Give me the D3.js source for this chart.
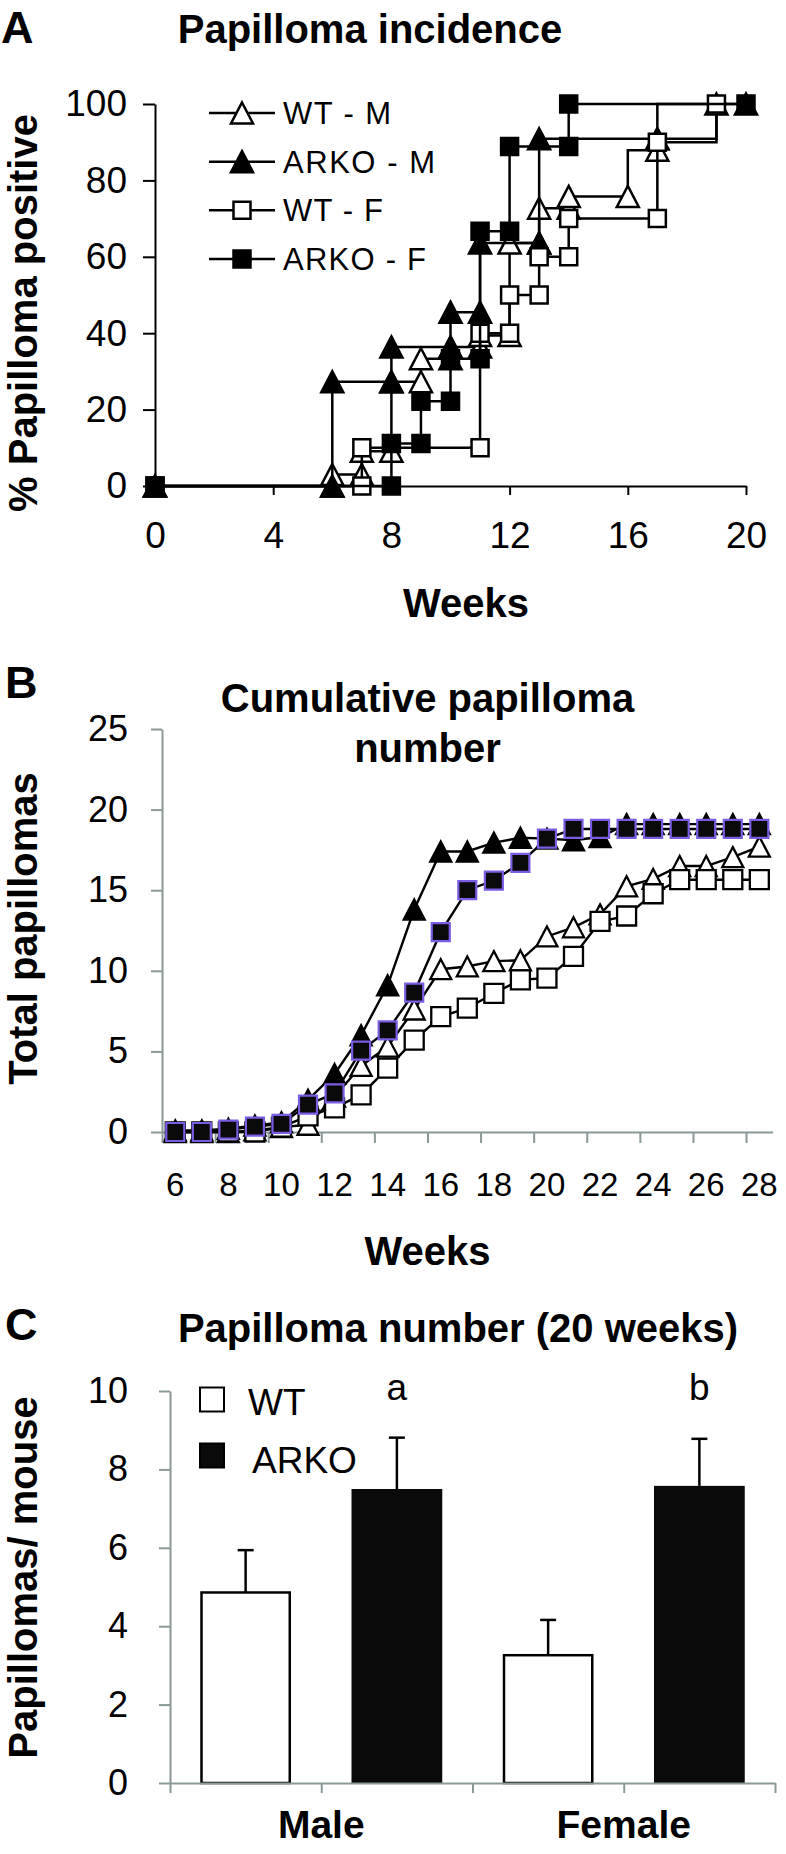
<!DOCTYPE html>
<html>
<head>
<meta charset="utf-8">
<script src="https://cdn.jsdelivr.net/npm/d3@7/dist/d3.min.js"></script>
<style>
html,body{margin:0;padding:0;background:#fff;}
svg{display:block;}
svg text{font-family:"Liberation Sans",Arial,Helvetica,sans-serif;fill:#000;}
</style>
</head>
<body>
<svg id="fig" width="786" height="1854"></svg>
<script>
// ================= DATA =================
// Panel A: Papilloma incidence (% papilloma positive vs weeks)
const weekTicksA = [0, 4, 8, 12, 16, 20];
const pctTicksA = [0, 20, 40, 60, 80, 100];
const legendA = ["WT - M", "ARKO - M", "WT - F", "ARKO - F"];

const wtM_x = [0, 6, 6, 7, 7, 8, 8, 9, 9, 10, 10, 11, 11, 12, 12, 13, 13, 14, 14, 16, 16, 17, 17, 19, 19];
const wtM_y = [0, 0, 3, 3, 9.1, 9.1, 27.3, 27.3, 33.3, 33.3, 36.4, 36.4, 39.4, 39.4, 63.6, 63.6, 72.7, 72.7, 75.8, 75.8, 87.9, 87.9, 90.9, 90.9, 100];
const wtM_noMarker = [20, 23];

const arkoM_x = [0, 6, 6, 8, 8, 10, 10, 11, 11, 13, 13, 17, 17, 20];
const arkoM_y = [0, 0, 27.3, 27.3, 36.4, 36.4, 45.5, 45.5, 63.6, 63.6, 90.9, 90.9, 100, 100];
const arkoM_noMarker = [12];

const wtF_x = [0, 7, 7, 11, 11, 12, 12, 13, 13, 14, 14, 17, 17, 19, 19];
const wtF_y = [0, 0, 10, 10, 40, 40, 50, 50, 60, 60, 70, 70, 90, 90, 100];
const wtF_noMarker = [13];

const arkoF_x = [0, 8, 8, 9, 9, 10, 10, 11, 11, 12, 12, 14, 14, 20];
const arkoF_y = [0, 0, 11.1, 11.1, 22.2, 22.2, 33.3, 33.3, 66.7, 66.7, 88.9, 88.9, 100, 100];
const arkoF_noMarker = [];

// Panel B: Cumulative papilloma number
const weeksB = [6, 7, 8, 9, 10, 11, 12, 13, 14, 15, 16, 17, 18, 19, 20, 21, 22, 23, 24, 25, 26, 27, 28];
const weekLabelsB = [6, 8, 10, 12, 14, 16, 18, 20, 22, 24, 26, 28];
const totalTicksB = [0, 5, 10, 15, 20, 25];
const wtM_B   = [0, 0, 0, 0.1, 0.3, 0.45, 2.2, 4.1, 5.3, 7.6, 10.1, 10.27, 10.6, 10.65, 12.13, 12.7, 13.5, 15.24, 15.7, 16.5, 16.5, 17.05, 17.7];
const arkoM_B = [0.1, 0.1, 0.2, 0.4, 0.6, 2.0, 3.6, 6.0, 9.1, 13.8, 17.4, 17.4, 17.95, 18.25, 18.2, 18.1, 18.3, 19.1, 19.1, 19.1, 19.1, 19.1, 19.1];
const wtF_B   = [0, 0, 0, 0, 0.3, 1.0, 1.5, 2.3, 3.96, 5.7, 7.16, 7.68, 8.6, 9.44, 9.55, 10.9, 13.06, 13.4, 14.78, 15.65, 15.65, 15.65, 15.65];
const arkoF_B = [0, 0, 0.15, 0.33, 0.5, 1.7, 2.4, 5.05, 6.3, 8.65, 12.4, 15.0, 15.6, 16.7, 18.2, 18.8, 18.8, 18.8, 18.8, 18.8, 18.8, 18.8, 18.8];

// Panel C: Papilloma number (20 weeks)
const sexesC = ["Male", "Female"];
const groupsC = ["WT", "ARKO"];
const wtMean = [4.86, 3.26];
const wtSem = [1.08, 0.9];
const arkoMean = [7.5, 7.58];
const arkoSem = [1.31, 1.2];
const sigLetters = ["a", "b"];
const perMouseTicks = [0, 2, 4, 6, 8, 10];

// ================= DRAWING =================
const svg = d3.select("#fig");
svg.append("rect").attr("width", 786).attr("height", 1854).attr("fill", "#fff");
const BLACK = "#000";
const GRAY = "#8a9898";
const PURPLE = "#7b5de4";

function triPath(w, h) { return `M0,${-h / 2}L${w / 2},${h / 2}L${-w / 2},${h / 2}Z`; }
function sqPath(s) { return `M${-s / 2},${-s / 2}H${s / 2}V${s / 2}H${-s / 2}Z`; }

function styleAxis(g, color, fs, weight) {
  g.attr("font-family", null).attr("font-size", null);
  g.select(".domain").attr("stroke", color).attr("stroke-width", 2);
  g.selectAll(".tick line").attr("stroke", color).attr("stroke-width", 2);
  g.selectAll(".tick text").attr("font-size", fs).attr("fill", BLACK).attr("font-weight", weight || "normal");
}

function label(x, y, txt, fs, weight, anchor, rot) {
  const t = svg.append("text").attr("font-size", fs).attr("font-weight", weight || "normal")
    .attr("text-anchor", anchor || "middle").text(txt);
  if (rot) t.attr("transform", `translate(${x},${y}) rotate(${rot})`);
  else t.attr("x", x).attr("y", y);
  return t;
}

// ---------- Panel A ----------
const xA = d3.scaleLinear().domain([0, 20]).range([155, 746]);
const yA = d3.scaleLinear().domain([0, 100]).range([486, 104]);

label(1, 43, "A", 45, "bold", "start");
label(370, 43, "Papilloma incidence", 40, "bold");

const gyA = svg.append("g").attr("transform", "translate(155,0)")
  .call(d3.axisLeft(yA).tickValues(pctTicksA).tickSize(12).tickSizeOuter(0).tickPadding(16));
styleAxis(gyA, BLACK, 37);
const gxA = svg.append("g").attr("transform", "translate(0,486)")
  .call(d3.axisBottom(xA).tickValues(weekTicksA).tickSize(9).tickSizeOuter(0).tickPadding(27));
styleAxis(gxA, BLACK, 37);

label(466, 617, "Weeks", 40, "bold");
label(37, 313, "% Papilloma positive", 40, "bold", "middle", -90);

const seriesA = [
  { xs: wtM_x, ys: wtM_y, skip: wtM_noMarker, shape: "tri", fill: "#fff" },
  { xs: arkoM_x, ys: arkoM_y, skip: arkoM_noMarker, shape: "tri", fill: BLACK },
  { xs: wtF_x, ys: wtF_y, skip: wtF_noMarker, shape: "sq", fill: "#fff" },
  { xs: arkoF_x, ys: arkoF_y, skip: arkoF_noMarker, shape: "sq", fill: BLACK }
];
const markerA = s => s === "tri" ? triPath(22, 21) : sqPath(17);

const lineA = d3.line().x(d => xA(d[0])).y(d => yA(d[1]));
seriesA.forEach(s => {
  const pts = s.xs.map((x, i) => [x, s.ys[i], i]);
  svg.append("path").datum(pts).attr("d", lineA).attr("fill", "none")
    .attr("stroke", BLACK).attr("stroke-width", 2.5).attr("stroke-linejoin", "miter");
  svg.append("g").selectAll("path").data(pts.filter(p => !s.skip.includes(p[2]))).join("path")
    .attr("d", markerA(s.shape))
    .attr("transform", d => `translate(${xA(d[0])},${yA(d[1])})`)
    .attr("fill", s.fill).attr("stroke", BLACK).attr("stroke-width", 2.5).attr("stroke-linejoin", "miter");
});

// legend A
const legRowsA = d3.scaleLinear().domain([0, 3]).range([113, 259]);
const legWidthsA = [108, 152, 100, 143];
legendA.forEach((name, i) => {
  const y = legRowsA(i);
  svg.append("line").attr("x1", 209).attr("x2", 275).attr("y1", y).attr("y2", y)
    .attr("stroke", BLACK).attr("stroke-width", 2.5);
  svg.append("path").attr("d", markerA(seriesA[i].shape)).attr("transform", `translate(242,${y})`)
    .attr("fill", seriesA[i].fill).attr("stroke", BLACK).attr("stroke-width", 2.5);
  svg.append("text").attr("x", 283).attr("y", y + 11).attr("font-size", 31)
    .attr("textLength", legWidthsA[i]).attr("lengthAdjust", "spacing").text(name);
});

// ---------- Panel B ----------
const xB = d3.scaleBand().domain(weeksB).range([162, 772.6]).padding(0);
const xBidx = d3.scaleLinear().domain([0, weeksB.length]).range([162, 772.6]);
const yB = d3.scaleLinear().domain([0, 25]).range([1132, 729]);

label(5, 698, "B", 45, "bold", "start");
label(427.5, 711.7, "Cumulative papilloma", 40, "bold");
label(427.5, 761.7, "number", 40, "bold");

const gyB = svg.append("g").attr("transform", "translate(162,0)")
  .call(d3.axisLeft(yB).tickValues(totalTicksB).tickSize(11).tickSizeOuter(0).tickPadding(23));
styleAxis(gyB, GRAY, 36);
const gxB = svg.append("g").attr("transform", "translate(0,1132)")
  .call(d3.axisBottom(xBidx).tickValues(d3.range(0, weeksB.length, 2)).tickSize(11).tickSizeOuter(0).tickFormat(""));
styleAxis(gxB, GRAY, 33);
const gxBl = svg.append("g").attr("transform", "translate(0,1132)")
  .call(d3.axisBottom(xB).tickValues(weekLabelsB).tickSize(0).tickPadding(41));
gxBl.select(".domain").remove();
styleAxis(gxBl, GRAY, 33);

label(427.5, 1265, "Weeks", 40, "bold");
label(37, 928.5, "Total papillomas", 40, "bold", "middle", -90);

const seriesB = [
  { vals: wtM_B, shape: "tri", fill: "#fff", stroke: BLACK, sw: 2.3 },
  { vals: arkoM_B, shape: "tri", fill: BLACK, stroke: BLACK, sw: 2.3 },
  { vals: wtF_B, shape: "sq", fill: "#fff", stroke: BLACK, sw: 2.3 },
  { vals: arkoF_B, shape: "sqp", fill: "#0a0a0a", stroke: PURPLE, sw: 2.2 }
];
const markerB = s => s === "tri" ? triPath(21, 20) : (s === "sq" ? sqPath(19) : sqPath(18));
const cx = w => xB(w) + xB.bandwidth() / 2;
const lineB = d3.line().x(d => cx(d[0])).y(d => yB(d[1]));
seriesB.forEach(s => {
  const pts = weeksB.map((w, i) => [w, s.vals[i]]);
  svg.append("path").datum(pts).attr("d", lineB).attr("fill", "none")
    .attr("stroke", BLACK).attr("stroke-width", 2.4);
  svg.append("g").selectAll("path").data(pts).join("path")
    .attr("d", markerB(s.shape))
    .attr("transform", d => `translate(${cx(d[0])},${yB(d[1])})`)
    .attr("fill", s.fill).attr("stroke", s.stroke).attr("stroke-width", s.sw);
});

// ---------- Panel C ----------
const xC = d3.scaleBand().domain(sexesC).range([170, 775]).padding(0);
const xG = d3.scaleBand().domain(groupsC).range([0, xC.bandwidth()]).paddingInner(0.4).paddingOuter(0.2);
const xCidx = d3.scaleLinear().domain([0, 4]).range([170, 775]);
const yC = d3.scaleLinear().domain([0, 10]).range([1783, 1391]);

label(5, 1340, "C", 45, "bold", "start");
label(458, 1342, "Papilloma number (20 weeks)", 40, "bold");

const gyC = svg.append("g").attr("transform", "translate(170,0)")
  .call(d3.axisLeft(yC).tickValues(perMouseTicks).tickSize(11).tickSizeOuter(0).tickPadding(31));
styleAxis(gyC, GRAY, 36);

label(37, 1577.5, "Papillomas/ mouse", 40, "bold", "middle", -90);

const barsC = [];
sexesC.forEach((sx, i) => {
  barsC.push({ sex: sx, grp: "WT", v: wtMean[i], e: wtSem[i], letter: null });
  barsC.push({ sex: sx, grp: "ARKO", v: arkoMean[i], e: arkoSem[i], letter: sigLetters[i] });
});
const bx = d => xC(d.sex) + xG(d.grp);
// error bars (drawn first; bars cover lower part)
const eg = svg.append("g");
barsC.forEach(d => {
  const c = bx(d) + xG.bandwidth() / 2;
  eg.append("line").attr("x1", c).attr("x2", c).attr("y1", yC(d.v)).attr("y2", yC(d.v + d.e))
    .attr("stroke", BLACK).attr("stroke-width", 2.5);
  eg.append("line").attr("x1", c - 8).attr("x2", c + 8).attr("y1", yC(d.v + d.e)).attr("y2", yC(d.v + d.e))
    .attr("stroke", BLACK).attr("stroke-width", 2.5);
});
svg.append("g").selectAll("rect").data(barsC).join("rect")
  .attr("x", d => bx(d) + (d.grp === "WT" ? 1.25 : 0))
  .attr("width", d => xG.bandwidth() - (d.grp === "WT" ? 2.5 : 0))
  .attr("y", d => yC(d.v))
  .attr("height", d => yC(0) - yC(d.v))
  .attr("fill", d => d.grp === "WT" ? "#fff" : "#0a0a0a")
  .attr("stroke", d => d.grp === "WT" ? BLACK : "none")
  .attr("stroke-width", 2.5);

barsC.filter(d => d.letter).forEach(d => {
  label(bx(d) + xG.bandwidth() / 2, 1400, d.letter, 37, "normal");
});

const gxC = svg.append("g").attr("transform", "translate(0,1783)")
  .call(d3.axisBottom(xCidx).tickValues([0, 1, 2, 3, 4]).tickSize(10).tickSizeOuter(0).tickFormat(""));
styleAxis(gxC, GRAY, 36);
const gxCl = svg.append("g").attr("transform", "translate(0,1783)")
  .call(d3.axisBottom(xC).tickSize(0).tickPadding(27));
gxCl.select(".domain").remove();
styleAxis(gxCl, GRAY, 39, "bold");

// legend C
const legC = [{ name: groupsC[0], fill: "#fff", y: 1399.5, tx: 248, ty: 1415 },
              { name: groupsC[1], fill: "#0a0a0a", y: 1455.5, tx: 252, ty: 1473 }];
legC.forEach(l => {
  svg.append("rect").attr("x", 200).attr("y", l.y - 12).attr("width", 24).attr("height", 24)
    .attr("fill", l.fill).attr("stroke", BLACK).attr("stroke-width", 2);
  svg.append("text").attr("x", l.tx).attr("y", l.ty).attr("font-size", 37).text(l.name);
});
</script>
</body>
</html>
